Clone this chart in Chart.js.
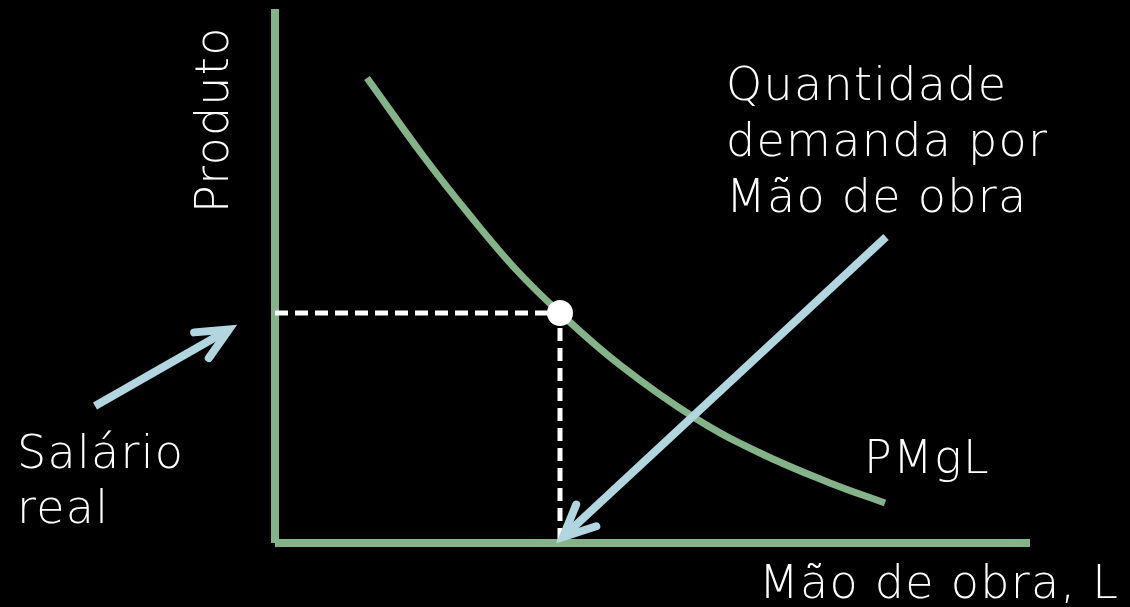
<!DOCTYPE html>
<html lang="pt">
<head>
<meta charset="UTF-8" />
<title>Demanda por mão de obra</title>
<script src="https://cdn.jsdelivr.net/npm/chart.js"></script>
<style>
  html, body { margin: 0; padding: 0; background: #000; }
  canvas { display: block; }
</style>
</head>
<body>
<canvas id="labor" width="1130" height="607"></canvas>
<script>
// curva PMgL (unidades arbitrárias, origem no canto dos eixos)
const pmglX = [1.84, 2.98, 3.90, 4.80, 5.70, 6.90, 8.40, 9.70, 11.10, 12.20];
const pmglY = [9.30, 7.72, 6.55, 5.49, 4.60, 3.56, 2.50, 1.80, 1.20, 0.80];

// ponto de equilíbrio (L*, salário real)
const eqL = 5.70;
const eqW = 4.60;

// comprimento dos eixos
const axisLMax = 15.1;
const axisPMax = 10.68;

// setas azuis: [início, ponta]
const demandArrowX = [12.22, 5.76];
const demandArrowY = [6.12, 0.12];
const wageArrowX = [-3.60, -0.92];
const wageArrowY = [2.74, 4.27];

const green = '#84b38a';
const blue = '#b2d6df';
const FONT = '"DejaVu Sans", sans-serif';

const texts = [
    { lines: ['Quantidade', 'demanda por', 'Mão de obra'], x: 726, y: 100, lh: 56 },
    { lines: ['Salário', 'real'], x: 17, y: 468, lh: 55 },
    { lines: ['PMgL'], x: 864, y: 473, lh: 0 },
    { lines: ['Mão de obra, L'], x: 759, y: 598, lh: 0 },
];

function pts(xs, ys) {
    return xs.map((x, i) => ({ x, y: ys[i] }));
}

// pontas das setas + textos
const decor = {
    id: 'decor',
    afterDatasetsDraw(chart) {
        const ctx = chart.ctx;
        chart.data.datasets.forEach((ds, i) => {
            if (!ds.arrow) return;
            const p = chart.getDatasetMeta(i).data;
            const a = p[p.length - 2], b = p[p.length - 1];
            const ang = Math.atan2(a.y - b.y, a.x - b.x);
            const len = 35, spread = 25 * Math.PI / 180;
            ctx.save();
            ctx.strokeStyle = ds.borderColor;
            ctx.lineWidth = ds.borderWidth;
            ctx.lineCap = 'round';
            ctx.lineJoin = 'miter';
            ctx.beginPath();
            ctx.moveTo(b.x + len * Math.cos(ang + spread), b.y + len * Math.sin(ang + spread));
            ctx.lineTo(b.x, b.y);
            ctx.lineTo(b.x + len * Math.cos(ang - spread), b.y + len * Math.sin(ang - spread));
            ctx.stroke();
            ctx.restore();
        });

        ctx.save();
        ctx.fillStyle = '#fff';
        ctx.font = '200 46px ' + FONT;
        ctx.letterSpacing = '1.3px';
        ctx.textAlign = 'left';
        ctx.textBaseline = 'alphabetic';
        texts.forEach(t => t.lines.forEach((s, k) => ctx.fillText(s, t.x, t.y + k * t.lh)));

        ctx.translate(228, 213);
        ctx.rotate(-Math.PI / 2);
        ctx.fillText('Produto', 0, 0);
        ctx.restore();
    }
};

new Chart(document.getElementById('labor'), {
    type: 'line',
    data: {
        datasets: [
            {   // ponto de equilíbrio
                data: [{ x: eqL, y: eqW }],
                showLine: false,
                pointRadius: 13,
                pointBackgroundColor: '#fff',
                pointBorderWidth: 0,
                order: 0
            },
            {   // demanda por mão de obra
                data: pts(demandArrowX, demandArrowY),
                borderColor: blue,
                borderWidth: 8,
                pointRadius: 0,
                arrow: true,
                order: 1
            },
            {
                data: pts(wageArrowX, wageArrowY),
                borderColor: blue,
                borderWidth: 8,
                pointRadius: 0,
                arrow: true,
                order: 1
            },
            {   // linhas tracejadas
                data: [{ x: 0, y: eqW }, { x: eqL, y: eqW }, { x: eqL, y: 0 }],
                borderColor: '#fff',
                borderWidth: 5,
                borderDash: [13, 7],
                pointRadius: 0,
                order: 2
            },
            {   // PMgL
                data: pts(pmglX, pmglY),
                borderColor: green,
                borderWidth: 7,
                pointRadius: 0,
                tension: 0.4,
                order: 3
            },
            {   // eixo vertical
                data: [{ x: 0, y: 0 }, { x: 0, y: axisPMax }],
                borderColor: green,
                borderWidth: 8,
                pointRadius: 0,
                order: 4
            },
            {   // eixo horizontal
                data: [{ x: 0, y: 0 }, { x: axisLMax, y: 0 }],
                borderColor: green,
                borderWidth: 8,
                pointRadius: 0,
                order: 4
            }
        ]
    },
    options: {
        responsive: false,
        animation: false,
        events: [],
        layout: { padding: 0, autoPadding: false },
        elements: { line: { borderCapStyle: 'butt', tension: 0 } },
        datasets: { line: { clip: false } },
        scales: {
            x: { type: 'linear', min: -5.5, max: 17.1, display: false },
            y: { type: 'linear', min: -1.28, max: 10.86, display: false }
        },
        plugins: { legend: { display: false }, tooltip: { enabled: false } }
    },
    plugins: [decor]
});
</script>
</body>
</html>
